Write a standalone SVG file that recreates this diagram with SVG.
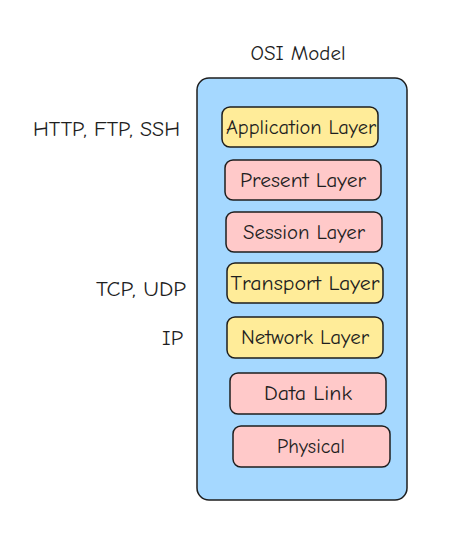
<svg xmlns="http://www.w3.org/2000/svg" width="459" height="541" viewBox="0 0 459 541">
<style>
  .t { font-family: "Comic Neue", "Liberation Sans", "DejaVu Sans", sans-serif; font-size: 20px; fill: #1e1e1e; }
  .c { text-anchor: middle; dominant-baseline: central; }
  .r { text-anchor: end; dominant-baseline: central; }
  .box { stroke: #1e1e1e; stroke-width: 1.5; }
  .yel { fill: #ffec99; }
  .pink { fill: #ffc9c9; }
</style>
<rect width="459" height="541" fill="#ffffff"/>
<g id="title"><text class="t c" x="298" y="53" textLength="95" lengthAdjust="spacingAndGlyphs">OSI Model</text></g>
<g id="container"><rect class="box" x="197" y="78" width="210" height="422" rx="12" fill="#a5d8ff"/></g>
<g id="application"><rect class="box yel" x="222" y="107" width="156" height="40" rx="8"/><text class="t c" x="301" y="127" textLength="150" lengthAdjust="spacingAndGlyphs">Application Layer</text></g>
<g id="present"><rect class="box pink" x="225" y="160" width="156" height="40" rx="8"/><text class="t c" x="303" y="180" textLength="126" lengthAdjust="spacingAndGlyphs">Present Layer</text></g>
<g id="session"><rect class="box pink" x="226" y="212" width="156" height="40" rx="8"/><text class="t c" x="304" y="232" textLength="122" lengthAdjust="spacingAndGlyphs">Session Layer</text></g>
<g id="transport"><rect class="box yel" x="227" y="263" width="156" height="40" rx="8"/><text class="t c" x="305" y="283" textLength="149" lengthAdjust="spacingAndGlyphs">Transport Layer</text></g>
<g id="network"><rect class="box yel" x="227" y="317" width="156" height="41" rx="8"/><text class="t c" x="305" y="337" textLength="128" lengthAdjust="spacingAndGlyphs">Network Layer</text></g>
<g id="datalink"><rect class="box pink" x="230" y="373" width="156" height="41" rx="8"/><text class="t c" x="308" y="393" textLength="88" lengthAdjust="spacingAndGlyphs">Data Link</text></g>
<g id="physical"><rect class="box pink" x="233" y="426" width="157" height="41" rx="8"/><text class="t c" x="311" y="446" textLength="68" lengthAdjust="spacingAndGlyphs">Physical</text></g>
<g id="label-http"><text class="t r" x="180" y="129" textLength="147" lengthAdjust="spacingAndGlyphs">HTTP, FTP, SSH</text></g>
<g id="label-tcp"><text class="t r" x="186" y="289" textLength="90" lengthAdjust="spacingAndGlyphs">TCP, UDP</text></g>
<g id="label-ip"><text class="t r" x="183" y="338" textLength="21" lengthAdjust="spacingAndGlyphs">IP</text></g>
<g id="connectors"></g>
</svg>
